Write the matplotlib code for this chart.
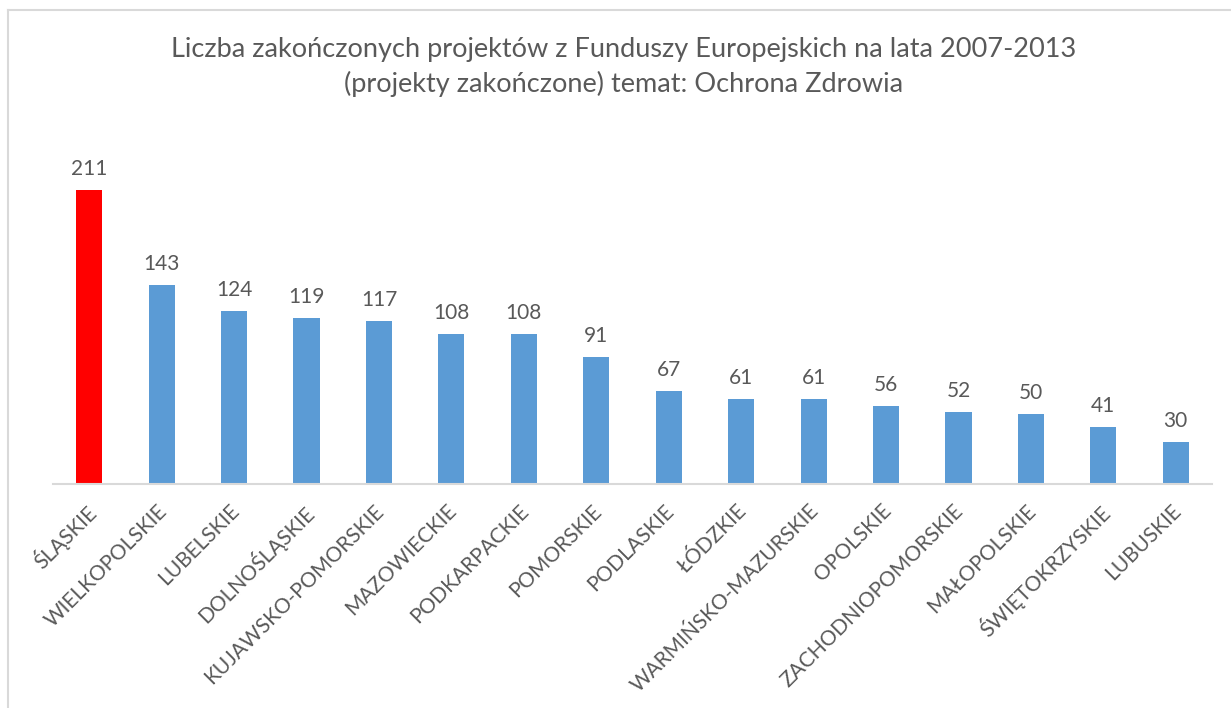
import matplotlib.pyplot as plt
from matplotlib.lines import Line2D
from matplotlib.transforms import ScaledTranslation

regions = ["ŚLĄSKIE", "WIELKOPOLSKIE", "LUBELSKIE", "DOLNOŚLĄSKIE", "KUJAWSKO-POMORSKIE",
           "MAZOWIECKIE", "PODKARPACKIE", "POMORSKIE", "PODLASKIE", "ŁÓDZKIE",
           "WARMIŃSKO-MAZURSKIE", "OPOLSKIE", "ZACHODNIOPOMORSKIE", "MAŁOPOLSKIE",
           "ŚWIĘTOKRZYSKIE", "LUBUSKIE"]
projects = [211, 143, 124, 119, 117, 108, 108, 91, 67, 61, 61, 56, 52, 50, 41, 30]
highlight = "ŚLĄSKIE"

TEXT = "#595959"
GRID = "#D9D9D9"
plt.rcParams["font.family"] = ["Lato", "DejaVu Sans"]

fig = plt.figure(figsize=(12.31, 7.08), dpi=100)
ax = fig.add_axes([53 / 1231, 1 - 484 / 708, 1159 / 1231, 334 / 708])

colors = ["#FF0000" if r == highlight else "#5B9BD5" for r in regions]
x = range(len(regions))
bars = ax.bar(x, projects, width=0.36, color=colors)

for b, v in zip(bars, projects):
    ax.annotate(str(v), (b.get_x() + b.get_width() / 2, v), xytext=(0, 8),
                textcoords="offset points", ha="center", va="bottom",
                fontsize=15, color=TEXT)

ax.set_xlim(-0.5, len(regions) - 0.5)
ax.set_ylim(0, 240)
ax.set_xticks(list(x))
ax.set_xticklabels(regions, rotation=45, ha="right", rotation_mode="anchor",
                   fontsize=15, color=TEXT)
ax.tick_params(axis="x", length=0, pad=12)
# nudge labels a little left, like Excel does
shift = ScaledTranslation(-5 / 100, 0, fig.dpi_scale_trans)
for lbl in ax.get_xticklabels():
    lbl.set_transform(lbl.get_transform() + shift)
ax.set_yticks([])
for s in ["top", "right", "left"]:
    ax.spines[s].set_visible(False)
ax.spines["bottom"].set_color(GRID)
ax.spines["bottom"].set_linewidth(1.5)

fig.text(624 / 1231, 1 - 67 / 708,
         "Liczba zakończonych projektów z Funduszy Europejskich na lata 2007-2013\n"
         "(projekty zakończone) temat: Ochrona Zdrowia",
         ha="center", va="center", fontsize=19.5, color=TEXT, linespacing=1.45)

# chart area border (left and top visible)
fig.add_artist(Line2D([7.5 / 1231, 7.5 / 1231], [0, 1 - 10 / 708], color=GRID, lw=1.5))
fig.add_artist(Line2D([7.5 / 1231, 1], [1 - 10 / 708, 1 - 10 / 708], color=GRID, lw=1.5))

fig.savefig("out.png", dpi=100)
